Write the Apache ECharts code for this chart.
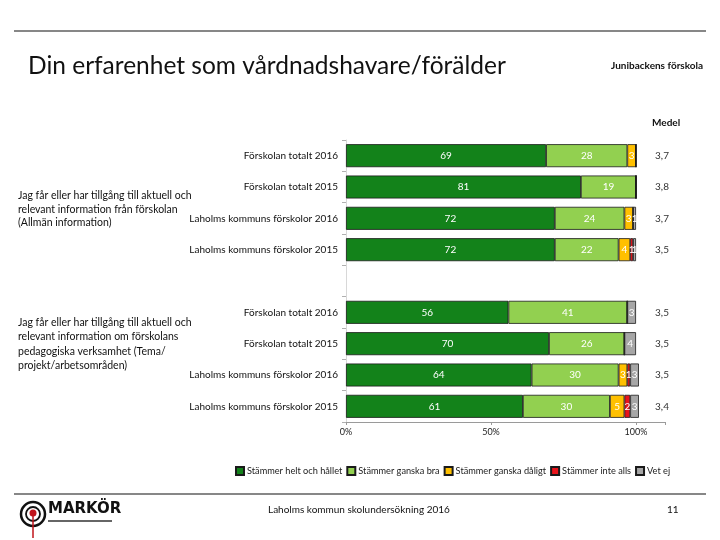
<!DOCTYPE html>
<html>
<head>
<meta charset="utf-8">
<script src="https://cdn.jsdelivr.net/npm/echarts@6/dist/echarts.min.js"></script>
<style>
html,body{margin:0;padding:0;background:#fff;}
#chart{width:720px;height:540px;}
</style>
</head>
<body>
<div id="chart"></div>
<script>
// Row labels (one empty spacer row between the two questions)
var rowLabels = ['Förskolan totalt 2016','Förskolan totalt 2015','Laholms kommuns förskolor 2016','Laholms kommuns förskolor 2015','',
                 'Förskolan totalt 2016','Förskolan totalt 2015','Laholms kommuns förskolor 2016','Laholms kommuns förskolor 2015'];
var seriesNames = ['Stämmer helt och hållet','Stämmer ganska bra','Stämmer ganska dåligt','Stämmer inte alls','Vet ej'];
var heltOchHallet = [69, 81, 72, 72, null, 56, 70, 64, 61];
var ganskaBra     = [28, 19, 24, 22, null, 41, 26, 30, 30];
var ganskaDaligt  = [3, 0, 3, 4, null, 0, 0, 3, 5];
var inteAlls      = [0, 0, 0, 1, null, 0, 0, 1, 2];
var vetEj         = [0, 0, 1, 1, null, 3, 4, 3, 3];
var medel = ['3,7','3,8','3,7','3,5','', '3,5','3,5','3,5','3,4'];
var xTicks = ['0%','50%','100%'];
var question1 = ['Jag får eller har tillgång till aktuell och','relevant information från förskolan','(Allmän information)'];
var question2 = ['Jag får eller har tillgång till aktuell och','relevant information om förskolans','pedagogiska verksamhet (Tema/','projekt/arbetsområden)'];

var colors = ['#13821A','#92D050','#FFC000','#E8141B','#A6A6A6'];
var values = [heltOchHallet, ganskaBra, ganskaDaligt, inteAlls, vetEj];
var FONT = 'Lato, "Open Sans", sans-serif';

var series = values.map(function(v, i){
  return {
    name: seriesNames[i], type: 'bar', stack: 'total', yAxisIndex: 0,
    barWidth: 23,
    itemStyle: {color: colors[i], borderColor: '#1a1a1a', borderWidth: 0.8},
    label: {show: true, position: 'inside', color: '#fff', fontSize: 10, fontFamily: FONT,
      formatter: function(p){ return p.value ? String(p.value) : ''; }},
    data: v
  };
});

var chart = echarts.init(document.getElementById('chart'));
chart.setOption({
  backgroundColor: '#fff',
  animation: false,
  textStyle: {fontFamily: FONT},
  grid: {left: 346, right: 55, top: 140, bottom: 118, containLabel: false},
  legend: {
    left: 230, top: 461, itemWidth: 8, itemHeight: 8, itemGap: 4,
    icon: 'rect',
    textStyle: {fontSize: 9.2, color: '#222', fontFamily: FONT, padding: [0,0,0,-2]},
    data: seriesNames
  },
  xAxis: {
    type: 'value', min: 0, max: 110, interval: 50,
    axisLine: {show: true, lineStyle: {color: '#9a9a9a'}},
    axisTick: {show: true, length: 3, lineStyle: {color: '#9a9a9a'}},
    splitLine: {show: false},
    axisLabel: {fontSize: 9, color: '#222', margin: 6,
      formatter: function(v){ return v <= 100 ? xTicks[v/50] : ''; }}
  },
  yAxis: [{
    type: 'category', inverse: true, data: rowLabels,
    axisLine: {show: true, lineStyle: {color: '#d8d8d8'}},
    axisTick: {show: true, length: 4, lineStyle: {color: '#b0b0b0'}},
    axisLabel: {fontSize: 10, color: '#111', margin: 8, fontFamily: FONT}
  },{
    type: 'category', inverse: true, data: medel, position: 'right',
    axisLine: {show: false}, axisTick: {show: false},
    axisLabel: {fontSize: 10, color: '#333', margin: -3, align: 'center', fontFamily: FONT}
  }],
  series: series,
  graphic: [
    {type: 'line', shape: {x1: 14, y1: 31, x2: 706, y2: 31}, style: {stroke: '#111', lineWidth: 1.2}},
    {type: 'text', left: 28, top: 54, style: {text: 'Din erfarenhet som vårdnadshavare/förälder', fontSize: 24.5, fontFamily: FONT, fill: '#111'}},
    {type: 'text', left: 611, top: 61, style: {text: 'Junibackens förskola', fontSize: 10, fontWeight: 'bold', fontFamily: FONT, fill: '#111'}},
    {type: 'text', left: 652, top: 118, style: {text: 'Medel', fontSize: 10, fontWeight: 'bold', fontFamily: FONT, fill: '#111'}},
    {type: 'text', left: 18, top: 189, style: {text: question1.join('\n'), fontSize: 10.5, lineHeight: 13.5, fontFamily: FONT, fill: '#111'}},
    {type: 'text', left: 18, top: 315, style: {text: question2.join('\n'), fontSize: 10.5, lineHeight: 14.5, fontFamily: FONT, fill: '#111'}},
    {type: 'line', shape: {x1: 14, y1: 494, x2: 706, y2: 494}, style: {stroke: '#111', lineWidth: 1.2}},
    {type: 'text', left: 268, top: 505, style: {text: 'Laholms kommun skolundersökning 2016', fontSize: 10, fontFamily: FONT, fill: '#111'}},
    {type: 'text', left: 667, top: 505, style: {text: '11', fontSize: 10, fontFamily: FONT, fill: '#111'}},
    {type: 'circle', shape: {cx: 33, cy: 514, r: 12}, style: {fill: 'none', stroke: '#111', lineWidth: 2.5}},
    {type: 'circle', shape: {cx: 33, cy: 514, r: 7}, style: {fill: 'none', stroke: '#111', lineWidth: 1.8}},
    {type: 'line', shape: {x1: 33, y1: 516, x2: 33, y2: 538}, style: {stroke: '#c0141b', lineWidth: 1.5}},
    {type: 'circle', shape: {cx: 33, cy: 513, r: 3.5}, style: {fill: '#c0141b'}},
    {type: 'text', left: 48, top: 502, style: {text: 'MARKÖR', fontSize: 15, fontWeight: 900, fontFamily: '"DejaVu Sans", sans-serif', fill: '#111'}},
    {type: 'rect', shape: {x: 48, y: 520, width: 64, height: 2}, style: {fill: '#666'}}
  ]
});
</script>
</body>
</html>
